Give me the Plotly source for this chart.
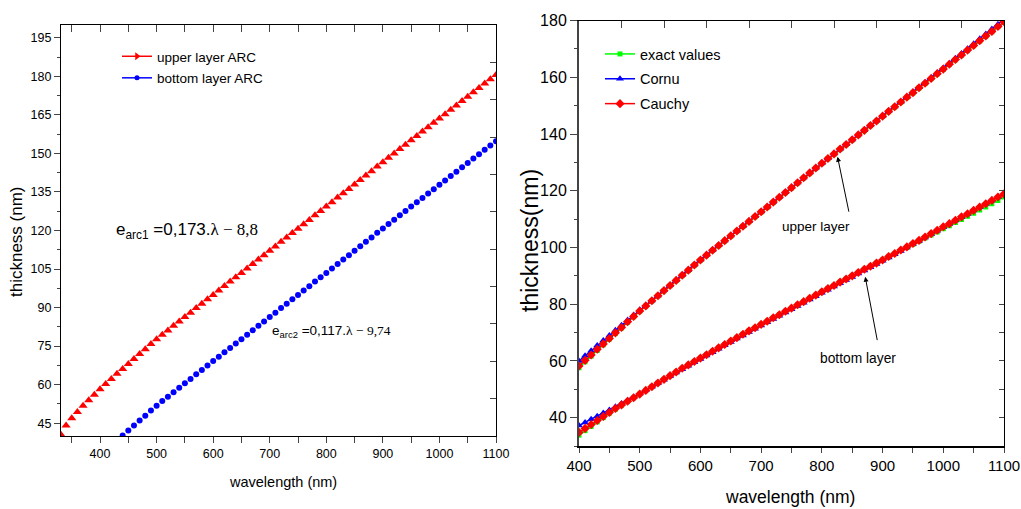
import plotly.graph_objects as go

# ---------------- data: left panel ----------------
wl_upper_arc = [330, 340, 350, 360, 370, 380, 390, 400, 410, 420, 430, 440, 450, 460, 470, 480, 490,
                500, 510, 520, 530, 540, 550, 560, 570, 580, 590, 600, 610, 620, 630, 640, 650, 660,
                670, 680, 690, 700, 710, 720, 730, 740, 750, 760, 770, 780, 790, 800, 810, 820, 830,
                840, 850, 860, 870, 880, 890, 900, 910, 920, 930, 940, 950, 960, 970, 980, 990, 1000,
                1010, 1020, 1030, 1040, 1050, 1060, 1070, 1080, 1090, 1100]
upper_arc = [40.8, 44.1, 46.9, 49.3, 51.8, 53.9, 56.1, 58.2, 60.2, 62.2, 64.2, 66.1, 68.0, 70.0, 71.9,
             73.8, 75.8, 77.7, 79.4, 81.1, 82.9, 84.6, 86.3, 88.0, 89.8, 91.5, 93.2, 94.9, 96.6, 98.4,
             100.1, 101.8, 103.5, 105.2, 107.0, 108.7, 110.4, 112.1, 113.8, 115.6, 117.3, 119.0, 120.7,
             122.4, 124.1, 125.9, 127.6, 129.3, 131.0, 132.8, 134.5, 136.2, 137.9, 139.7, 141.4, 143.1,
             144.9, 146.6, 148.3, 150.0, 151.7, 153.4, 155.1, 156.8, 158.5, 160.2, 161.9, 163.6, 165.3,
             167.0, 168.7, 170.4, 172.1, 173.8, 175.5, 177.2, 178.9, 180.5]

wl_bottom_arc = [440, 450, 460, 470, 480, 490, 500, 510, 520, 530, 540, 550, 560, 570, 580, 590, 600,
                 610, 620, 630, 640, 650, 660, 670, 680, 690, 700, 710, 720, 730, 740, 750, 760, 770,
                 780, 790, 800, 810, 820, 830, 840, 850, 860, 870, 880, 890, 900, 910, 920, 930, 940,
                 950, 960, 970, 980, 990, 1000, 1010, 1020, 1030, 1040, 1050, 1060, 1070, 1080, 1090, 1100]
bottom_arc = [40.2, 42.1, 44.1, 46.0, 47.9, 49.9, 51.8, 53.6, 55.3, 57.0, 58.8, 60.5, 62.2, 64.0, 65.7,
              67.4, 69.2, 70.9, 72.6, 74.3, 76.0, 77.7, 79.4, 81.2, 82.9, 84.6, 86.3, 88.0, 89.8, 91.5,
              93.2, 94.9, 96.6, 98.3, 100.1, 101.8, 103.5, 105.2, 107.0, 108.7, 110.4, 112.1, 113.9,
              115.6, 117.3, 119.1, 120.8, 122.5, 124.2, 125.9, 127.6, 129.3, 131.0, 132.7, 134.4, 136.1,
              137.8, 139.5, 141.2, 142.9, 144.6, 146.3, 148.0, 149.7, 151.4, 153.1, 154.7]

# ---------------- data: right panel ----------------
wl = [400, 410, 420, 430, 440, 450, 460, 470, 480, 490, 500, 510, 520, 530, 540, 550, 560, 570, 580,
      590, 600, 610, 620, 630, 640, 650, 660, 670, 680, 690, 700, 710, 720, 730, 740, 750, 760, 770,
      780, 790, 800, 810, 820, 830, 840, 850, 860, 870, 880, 890, 900, 910, 920, 930, 940, 950, 960,
      970, 980, 990, 1000, 1010, 1020, 1030, 1040, 1050, 1060, 1070, 1080, 1090, 1100]

upper_exact = [57.6, 59.7, 61.7, 63.7, 65.7, 67.7, 69.7, 71.6, 73.6, 75.6, 77.5, 79.3, 81.1, 82.9, 84.7,
               86.5, 88.3, 90.1, 91.9, 93.7, 95.5, 97.2, 98.9, 100.6, 102.3, 104.0, 105.7, 107.4, 109.1,
               110.8, 112.5, 114.2, 115.9, 117.6, 119.3, 121.0, 122.7, 124.5, 126.2, 127.9, 129.6, 131.3,
               132.9, 134.6, 136.2, 137.9, 139.6, 141.2, 142.9, 144.5, 146.2, 147.9, 149.5, 151.2, 152.9,
               154.5, 156.2, 157.8, 159.5, 161.2, 162.8, 164.5, 166.2, 167.8, 169.5, 171.1, 172.8, 174.5,
               176.1, 177.8, 179.4]
upper_cornu = [60.0, 61.8, 63.6, 65.4, 67.2, 69.0, 70.8, 72.6, 74.4, 76.2, 78.0, 79.6, 81.3, 83.1, 84.9,
               86.7, 88.5, 90.3, 92.1, 93.9, 95.7, 97.4, 99.1, 100.8, 102.5, 104.2, 105.9, 107.6, 109.3,
               111.0, 112.7, 114.4, 116.1, 117.8, 119.5, 121.2, 122.9, 124.7, 126.4, 128.1, 129.8, 131.5,
               133.1, 134.8, 136.4, 138.1, 139.8, 141.4, 143.1, 144.7, 146.4, 148.1, 149.7, 151.4, 153.1,
               154.8, 156.5, 158.2, 159.9, 161.6, 163.3, 165.0, 166.7, 168.4, 170.1, 171.8, 173.6, 175.3,
               177.0, 178.7, 180.5]
upper_cauchy = [58.2, 60.2, 62.1, 64.1, 66.0, 67.9, 69.9, 71.8, 73.8, 75.7, 77.6, 79.4, 81.2, 83.0, 84.8,
                86.6, 88.4, 90.2, 92.0, 93.8, 95.6, 97.3, 99.0, 100.7, 102.4, 104.1, 105.8, 107.5, 109.2,
                110.9, 112.6, 114.3, 116.0, 117.7, 119.4, 121.1, 122.8, 124.6, 126.3, 128.0, 129.7, 131.4,
                133.0, 134.7, 136.3, 138.0, 139.7, 141.3, 143.0, 144.6, 146.3, 148.0, 149.6, 151.3, 153.0,
                154.6, 156.3, 157.9, 159.6, 161.3, 162.9, 164.6, 166.3, 167.9, 169.6, 171.2, 172.9, 174.6,
                176.2, 177.9, 179.6]

bottom_exact = [33.8, 35.4, 36.9, 38.5, 40.0, 41.6, 43.0, 44.4, 45.7, 47.0, 48.3, 49.6, 50.9, 52.2, 53.5,
                54.8, 56.1, 57.4, 58.6, 59.8, 61.0, 62.2, 63.4, 64.6, 65.8, 67.0, 68.2, 69.4, 70.6, 71.7,
                72.9, 74.0, 75.2, 76.3, 77.5, 78.6, 79.8, 80.9, 82.1, 83.2, 84.4, 85.5, 86.6, 87.8, 88.9,
                90.0, 91.2, 92.3, 93.4, 94.5, 95.6, 96.7, 97.8, 98.9, 100.0, 101.1, 102.2, 103.3, 104.4,
                105.5, 106.6, 107.7, 108.8, 109.9, 111.0, 112.1, 113.2, 114.3, 115.4, 116.6, 117.8]
bottom_cornu = [37.2, 38.3, 39.4, 40.5, 41.6, 42.7, 43.8, 45.0, 46.1, 47.3, 48.5, 49.7, 50.9, 52.1, 53.4,
                54.6, 55.9, 57.1, 58.3, 59.5, 60.7, 61.9, 63.1, 64.3, 65.5, 66.7, 67.9, 69.0, 70.2, 71.3,
                72.5, 73.6, 74.8, 75.9, 77.1, 78.2, 79.4, 80.5, 81.7, 82.8, 84.0, 85.1, 86.2, 87.4, 88.5,
                89.6, 90.8, 91.9, 93.0, 94.2, 95.3, 96.5, 97.6, 98.8, 100.0, 101.2, 102.3, 103.5, 104.7,
                105.9, 107.1, 108.3, 109.5, 110.7, 111.8, 113.0, 114.2, 115.4, 116.6, 117.8, 119.0]
bottom_cauchy = [34.8, 36.2, 37.6, 39.0, 40.4, 41.8, 43.2, 44.5, 45.8, 47.0, 48.3, 49.6, 50.9, 52.2, 53.5,
                 54.8, 56.1, 57.4, 58.6, 59.8, 61.0, 62.2, 63.4, 64.6, 65.8, 67.0, 68.2, 69.4, 70.6, 71.7,
                 72.9, 74.0, 75.2, 76.3, 77.5, 78.6, 79.8, 80.9, 82.1, 83.2, 84.4, 85.5, 86.6, 87.8, 88.9,
                 90.0, 91.2, 92.3, 93.4, 94.5, 95.6, 96.8, 97.9, 99.1, 100.2, 101.4, 102.5, 103.7, 104.9,
                 106.1, 107.3, 108.4, 109.6, 110.8, 111.9, 113.1, 114.3, 115.4, 116.6, 117.8, 118.9]

FONT = "Liberation Sans, Arial, sans-serif"
SERIF = "Liberation Serif, Times New Roman, serif"
RED, BLUE, GREEN = "#ff0000", "#0000ff", "#00ff00"

W, H = 1021, 509   # body margin is removed by the post script


def px(x):
    return x / W


def py(y):
    return 1 - y / H


fig = go.Figure()

# ---- left panel traces
fig.add_trace(go.Scatter(x=wl_upper_arc, y=upper_arc, mode="markers", showlegend=False,
                         marker=dict(symbol="triangle-up", size=8, color=RED), xaxis="x", yaxis="y"))
fig.add_trace(go.Scatter(x=wl_bottom_arc, y=bottom_arc, mode="markers", showlegend=False,
                         marker=dict(symbol="circle", size=6, color=BLUE), xaxis="x", yaxis="y"))
fig.add_trace(go.Scatter(x=[None], y=[None], mode="lines+markers", name="upper layer ARC",
                         line=dict(color=RED, width=1.5), marker=dict(symbol="triangle-right", size=7, color=RED),
                         xaxis="x", yaxis="y", legend="legend", legendgroup="a1"))
fig.add_trace(go.Scatter(x=[None], y=[None], mode="lines+markers", name="bottom layer ARC",
                         line=dict(color=BLUE, width=1.5), marker=dict(symbol="circle", size=5, color=BLUE),
                         xaxis="x", yaxis="y", legend="legend", legendgroup="a2"))

# ---- right panel traces
for ys, col, sym, sz, name, show, grp in [
    (upper_exact, GREEN, "square", 5, "exact values", True, "g1"),
    (upper_cornu, BLUE, "triangle-up", 7, "Cornu", True, "g2"),
    (upper_cauchy, RED, "diamond", 7, "Cauchy", True, "g3"),
    (bottom_exact, GREEN, "square", 5, "exact values", False, "g1"),
    (bottom_cornu, BLUE, "triangle-up", 7, "Cornu", False, "g2"),
    (bottom_cauchy, RED, "diamond", 7, "Cauchy", False, "g3"),
]:
    fig.add_trace(go.Scatter(x=wl, y=ys, mode="lines+markers", name=name, showlegend=show,
                             line=dict(color=col, width=1.5), marker=dict(symbol=sym, size=sz, color=col),
                             xaxis="x2", yaxis="y2", legend="legend2", legendgroup=grp))

# dummy traces for the mirror axes
fig.add_trace(go.Scatter(x=[None], y=[None], xaxis="x3", yaxis="y3", showlegend=False))
fig.add_trace(go.Scatter(x=[None], y=[None], xaxis="x4", yaxis="y4", showlegend=False))

LD = [px(61), px(496)]
LY = [py(436), py(25)]
RD = [px(579), px(1004)]
RY = [py(446), py(20.6)]

common = dict(showgrid=False, zeroline=False, showline=True, mirror=False, automargin=False)

fig.update_layout(
    width=W, height=H, margin=dict(l=0, r=0, t=0, b=0, autoexpand=False),
    paper_bgcolor="white", plot_bgcolor="white",
    font=dict(family=FONT, color="black"),
    xaxis=dict(domain=LD, anchor="y", range=[331, 1100], dtick=100, tick0=0,
               ticks="outside", ticklen=6, tickwidth=1, linecolor="black", linewidth=1.2,
               minor=dict(dtick=50, ticks="outside", ticklen=6, tickwidth=1),
               tickfont=dict(size=12.5), ticklabeloverflow="allow", **common),
    yaxis=dict(domain=LY, anchor="x", range=[40, 200], dtick=15, tick0=0,
               ticks="outside", ticklen=6, tickwidth=1, linecolor="black", linewidth=1.2,
               minor=dict(dtick=7.5, ticks="outside", ticklen=3, tickwidth=1),
               tickfont=dict(size=12.5), ticklabeloverflow="allow", **common),
    xaxis3=dict(overlaying="x", anchor="y3", side="top", range=[331, 1100], dtick=50, tick0=0,
                ticks="inside", ticklen=7, showticklabels=False, linecolor="black", linewidth=1.2,
                **common),
    yaxis3=dict(overlaying="y", anchor="x3", side="right", range=[0, 11], dtick=1, tick0=0,
                ticks="inside", ticklen=6, showticklabels=False, linecolor="black", linewidth=1.2,
                **common),
    xaxis2=dict(domain=RD, anchor="y2", range=[400, 1100], dtick=100, tick0=0,
                ticks="outside", ticklen=5, tickwidth=1.2, linecolor="black", linewidth=1.5,
                minor=dict(dtick=50, ticks="outside", ticklen=5, tickwidth=1.2),
                tickfont=dict(size=15), ticklabeloverflow="allow", **common),
    yaxis2=dict(domain=RY, anchor="x2", range=[30, 180], dtick=20, tick0=0,
                ticks="outside", ticklen=7, tickwidth=1.2, linecolor="#444", linewidth=2,
                minor=dict(dtick=10, ticks="outside", ticklen=3, tickwidth=1.2),
                tickfont=dict(size=16), ticklabeloverflow="allow", **common),
    xaxis4=dict(overlaying="x2", anchor="y4", side="top", range=[0, 10], dtick=1, tick0=0,
                ticks="inside", ticklen=7, showticklabels=False, linecolor="black", linewidth=1.2,
                **common),
    yaxis4=dict(overlaying="y2", anchor="x4", side="right", range=[30, 180], dtick=10, tick0=0,
                ticks="inside", ticklen=5, showticklabels=False, linecolor="black", linewidth=1.2,
                **common),
    legend=dict(x=117 / W, y=1 - 41 / H, xanchor="left", yanchor="top", bgcolor="rgba(0,0,0,0)",
                font=dict(size=13.5), tracegroupgap=1, itemsizing="trace"),
    legend2=dict(x=600 / W, y=1 - 38 / H, xanchor="left", yanchor="top", bgcolor="rgba(0,0,0,0)",
                 font=dict(size=14.5), tracegroupgap=3, itemsizing="trace"),
)

ann = [
    # axis titles
    dict(x=px(17), y=py(242), xref="paper", yref="paper", showarrow=False, textangle=-90,
         xanchor="center", yanchor="middle", text="thickness (nm)", font=dict(size=17)),
    dict(x=px(283), y=py(482), xref="paper", yref="paper", showarrow=False,
         xanchor="center", yanchor="middle", text="wavelength (nm)", font=dict(size=14.5)),
    dict(x=px(530), y=py(241), xref="paper", yref="paper", showarrow=False, textangle=-90,
         xanchor="center", yanchor="middle", text="thickness(nm)", font=dict(size=23)),
    dict(x=px(790), y=py(497), xref="paper", yref="paper", showarrow=False,
         xanchor="center", yanchor="middle", text="wavelength (nm)", font=dict(size=17.5)),
    # equations
    dict(x=553, y=119.8, xref="x", yref="y", showarrow=False, xanchor="center", yanchor="middle",
         text=("e<sub>arc1</sub> =0,173.<span style='font-family:" + SERIF + "'>λ − 8,8</span>"),
         font=dict(size=17)),
    dict(x=810, y=80.5, xref="x", yref="y", showarrow=False, xanchor="center", yanchor="middle",
         text=("e<sub>arc2</sub> =0,117.<span style='font-family:" + SERIF + "'>λ − 9,74</span>"),
         font=dict(size=13.5)),
    # right panel labels and arrows
    dict(x=790, y=107.4, xref="x2", yref="y2", showarrow=False, text="upper layer", font=dict(size=13.5)),
    dict(x=860, y=61.0, xref="x2", yref="y2", showarrow=False, text="bottom layer", font=dict(size=13.8)),
    dict(x=825.8, y=132.0, ax=845.0, ay=112.1, xref="x2", yref="y2", axref="x2", ayref="y2",
         text="", showarrow=True, arrowhead=2, arrowsize=1, arrowwidth=1, arrowcolor="black"),
    dict(x=871.4, y=89.7, ax=891.7, ay=66.8, xref="x2", yref="y2", axref="x2", ayref="y2",
         text="", showarrow=True, arrowhead=2, arrowsize=1, arrowwidth=1, arrowcolor="black"),
]
fig.update_layout(annotations=ann)

fig.write_html("out.html", config={"displayModeBar": False},
               post_script="document.body.style.margin='0';document.body.style.overflow='hidden';")
